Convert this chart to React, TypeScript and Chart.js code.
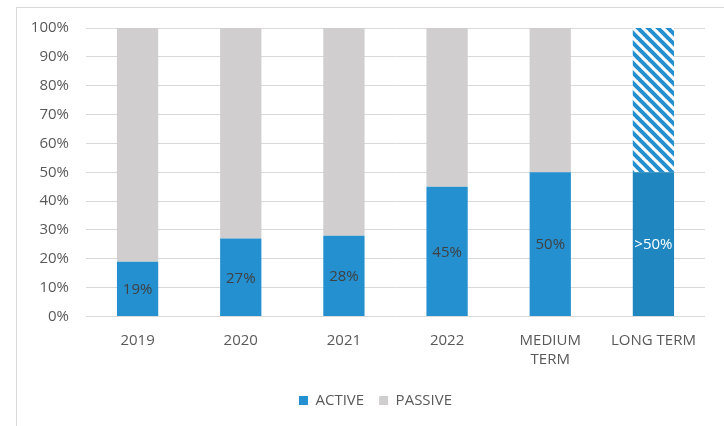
import React, { useEffect, useRef } from "react";
import { Chart, registerables } from "chart.js";

Chart.register(...registerables);

const categories: (string | string[])[] = ["2019", "2020", "2021", "2022", ["MEDIUM", "TERM"], "LONG TERM"];
const activeValues = [19, 27, 28, 45, 50, 50];
const passiveValues = [81, 73, 72, 55, 50, 50];
const activeLabels = ["19%", "27%", "28%", "45%", "50%", ">50%"];
const yTicks = [0, 10, 20, 30, 40, 50, 60, 70, 80, 90, 100];

const BLUE = "#2490d0";
const BLUE_DARK = "#1f86c0";
const GRAY = "#d0cece";
const FONT = "'Open Sans', sans-serif";
const FS = 15;

function makeHatch(): CanvasPattern | string {
  const c = document.createElement("canvas");
  c.width = 10;
  c.height = 10;
  const g = c.getContext("2d");
  if (!g) return BLUE;
  g.fillStyle = "#ffffff";
  g.fillRect(0, 0, 10, 10);
  g.strokeStyle = BLUE;
  g.lineWidth = 4;
  g.beginPath();
  for (const k of [-1, 0, 1]) {
    g.moveTo(k * 10 - 1, -1);
    g.lineTo(k * 10 + 11, 11);
  }
  g.stroke();
  const p = g.createPattern(c, "repeat");
  return p || BLUE;
}

const labelPlugin = {
  id: "activeLabels",
  afterLayout(chart: any) {
    if (chart.legend) {
      chart.legend.left += 23;
      chart.legend.right += 23;
    }
  },
  afterDatasetsDraw(chart: any) {
    const meta = chart.getDatasetMeta(0);
    const ctx = chart.ctx;
    ctx.save();
    ctx.font = `${FS}px ${FONT}`;
    ctx.textAlign = "center";
    ctx.textBaseline = "middle";
    meta.data.forEach((bar: any, i: number) => {
      const { x, y, base } = bar.getProps(["x", "y", "base"], true);
      ctx.fillStyle = i === activeLabels.length - 1 ? "#ffffff" : "#404040";
      ctx.fillText(activeLabels[i], x, (y + base) / 2 + 1);
    });
    ctx.restore();
  },
};

export default function App() {
  const ref = useRef<HTMLCanvasElement>(null);
  useEffect(() => {
    if (!ref.current) return;
    const hatch = makeHatch();
    const chart = new Chart(ref.current, {
      type: "bar",
      data: {
        labels: categories,
        datasets: [
          {
            label: "ACTIVE",
            data: activeValues,
            backgroundColor: activeValues.map((_, i) => (i === activeValues.length - 1 ? BLUE_DARK : BLUE)),
            borderWidth: 0,
            categoryPercentage: 1,
            barPercentage: 0.4,
          },
          {
            label: "PASSIVE",
            data: passiveValues,
            backgroundColor: passiveValues.map((_, i) => (i === passiveValues.length - 1 ? hatch : GRAY)) as any,
            borderWidth: 0,
            categoryPercentage: 1,
            barPercentage: 0.4,
          },
        ],
      },
      options: {
        animation: false,
        responsive: false,
        layout: { padding: { left: 0, right: 19, top: 28, bottom: 8 } },
        scales: {
          x: {
            stacked: true,
            grid: { display: false },
            border: { display: false },
            afterFit: (scale: any) => {
              scale.height += 2;
            },
            ticks: { color: "#595959", font: { family: FONT, size: FS, lineHeight: 1.25 }, padding: 7, maxRotation: 0, autoSkip: false },
          },
          y: {
            stacked: true,
            min: 0,
            max: 100,
            afterBuildTicks: (scale: any) => {
              scale.ticks = yTicks.map((v) => ({ value: v }));
            },
            afterFit: (scale: any) => {
              scale.width = 86;
            },
            grid: { color: "#d9d9d9", lineWidth: 1, drawTicks: false },
            border: { display: false },
            ticks: {
              color: "#595959",
              font: { family: FONT, size: FS },
              padding: 17,
              callback: (v: any) => `${v}%`,
            },
          },
        },
        plugins: {
          tooltip: { enabled: false },
          legend: {
            position: "bottom",
            labels: {
              color: "#595959",
              font: { family: FONT, size: FS },
              boxWidth: 9,
              boxHeight: 9,
              padding: 15,
              generateLabels: () => [
                { text: "ACTIVE", fillStyle: BLUE, strokeStyle: BLUE, lineWidth: 0, hidden: false, datasetIndex: 0, fontColor: "#595959" },
                { text: "PASSIVE", fillStyle: GRAY, strokeStyle: GRAY, lineWidth: 0, hidden: false, datasetIndex: 1, fontColor: "#595959" },
              ],
            },
          },
        },
      },
      plugins: [labelPlugin],
    });
    return () => chart.destroy();
  }, []);
  return (
    <div style={{ position: "fixed", left: 0, top: 0, width: 724, height: 426, background: "#fff", overflow: "hidden" }}>
      <div
        style={{
          position: "absolute",
          left: 16,
          top: 7,
          width: 800,
          height: 500,
          borderLeft: "1px solid #d9d9d9",
          borderTop: "1px solid #d9d9d9",
        }}
      />
      <canvas ref={ref} width={724} height={426} style={{ position: "absolute", left: 0, top: 0 }} />
    </div>
  );
}
